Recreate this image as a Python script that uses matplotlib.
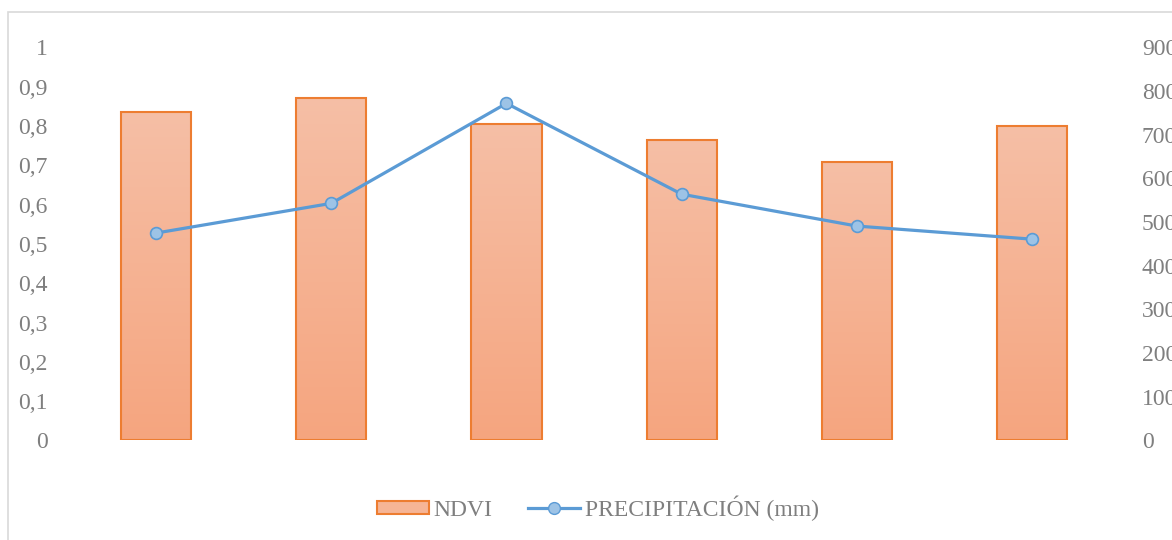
import matplotlib.pyplot as plt
import numpy as np
from matplotlib.colors import LinearSegmentedColormap
from matplotlib.patches import Rectangle

# Datos: NDVI (eje izquierdo) y precipitación (eje derecho)
categorias = [1, 2, 3, 4, 5, 6]
ndvi = [0.837, 0.871, 0.805, 0.765, 0.709, 0.800]
precipitacion = [475, 543, 772, 564, 491, 461]

gris = "#7f7f7f"
naranja = "#ED7D31"
azul = "#5B9BD5"
plt.rcParams["font.family"] = ["Liberation Serif", "DejaVu Serif"]

fig = plt.figure(figsize=(11.72, 5.4), dpi=100)
ax = fig.add_axes([0.0584, 0.1843, 0.897, 0.7278])
ax2 = ax.twinx()

# marco del gráfico
fig.patches.append(Rectangle((7.5 / 1172, -0.05), 1.2, (540 - 11.5) / 540 + 0.05,
                             transform=fig.transFigure, fill=False,
                             edgecolor="#d9d9d9", linewidth=1.2))

x = np.arange(len(categorias))
barras = ax.bar(x, ndvi, width=0.4, facecolor="none", edgecolor=naranja,
                linewidth=1.5, zorder=3)

# relleno degradado de las barras
degradado = LinearSegmentedColormap.from_list("ndvi", ["#F5A57F", "#F6BFA6"])
grad = np.linspace(0, 1, 256).reshape(-1, 1)
for b in barras:
    x0, y0 = b.get_x(), b.get_y()
    im = ax.imshow(grad, cmap=degradado, origin="lower", aspect="auto",
                   extent=[x0, x0 + b.get_width(), y0, y0 + b.get_height()],
                   zorder=2)
    im.set_clip_path(b)

ax.set_xlim(-0.5, len(categorias) - 0.5)
ax.set_ylim(0, 1)
ax.set_yticks(np.arange(0, 1.01, 0.1))
ax.set_yticklabels(["0"] + [f"{v:.1f}".replace(".", ",") for v in np.arange(0.1, 0.95, 0.1)] + ["1"])
ax.set_xticks([])

ax2.plot(x, precipitacion, color=azul, linewidth=2.3, marker="o",
         markersize=8.5, markerfacecolor="#9DC3E6", markeredgecolor=azul,
         markeredgewidth=1.2, zorder=4)
ax2.set_ylim(0, 900)
ax2.set_yticks(np.arange(0, 901, 100))

for a in (ax, ax2):
    for s in a.spines.values():
        s.set_visible(False)
    a.tick_params(axis="y", length=0, labelsize=17, colors=gris)
ax.tick_params(axis="y", pad=15)
ax2.tick_params(axis="y", pad=16)

# leyenda
h_barra = Rectangle((0, 0), 1, 1, facecolor="#F6B596", edgecolor=naranja, linewidth=1.5)
h_linea = plt.Line2D([], [], color=azul, linewidth=2.3, marker="o", markersize=8.5,
                     markerfacecolor="#9DC3E6", markeredgecolor=azul)
fig.legend([h_barra, h_linea], ["NDVI", "PRECIPITACIÓN (mm)"], loc="center",
           bbox_to_anchor=(598 / 1172, 1 - 508 / 540), ncol=2, frameon=False,
           fontsize=17, labelcolor=gris, handlelength=2.2, handletextpad=0.2,
           columnspacing=1.5, handleheight=0.5)

fig.savefig("out.png", dpi=100)
